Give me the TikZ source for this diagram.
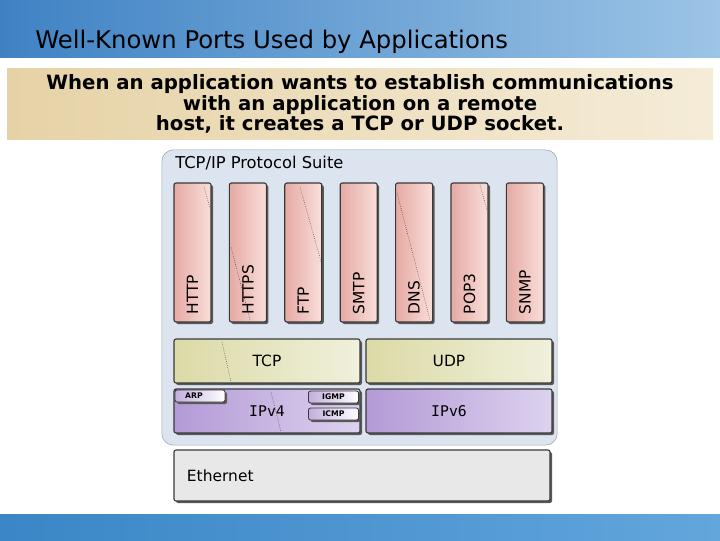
\documentclass[tikz,border=0pt]{standalone}
\usepackage{fontspec}
\setmainfont{DejaVu Sans}
\setmonofont{DejaVu Sans Mono}
\usetikzlibrary{shadows}
\definecolor{bannerL}{HTML}{3F82C4}
\definecolor{bannerR}{HTML}{9CC4E6}
\definecolor{bandL}{HTML}{3A86C6}
\definecolor{bandR}{HTML}{62A6DC}
\definecolor{tanL}{HTML}{E6D2A6}
\definecolor{tanR}{HTML}{F5ECD8}
\definecolor{suitebg}{HTML}{DCE4EF}
\definecolor{suiteedge}{HTML}{9AA6B4}
\definecolor{pinkL}{HTML}{E6AAA4}
\definecolor{pinkR}{HTML}{F9DEDA}
\definecolor{oliveL}{HTML}{DCDAA6}
\definecolor{oliveR}{HTML}{F0F0DC}
\definecolor{lilacL}{HTML}{B39AD6}
\definecolor{lilacR}{HTML}{DDD2EE}
\definecolor{ethgray}{HTML}{E8E8E8}
\definecolor{edgedark}{HTML}{3A3A3A}
\tikzset{
  block/.style={draw=edgedark,line width=0.8pt,rounded corners=1.5pt,inner sep=0pt,
    drop shadow={shadow xshift=0.05cm,shadow yshift=-0.05cm,fill=black!65,opacity=1}},
  portcol/.style={block,left color=pinkL,right color=pinkR,minimum width=0.925cm,minimum height=3.475cm},
  portlbl/.style={rotate=90,anchor=west,inner sep=0pt,font=\fontsize{11}{12}\selectfont},
  transport/.style={block,left color=oliveL,right color=oliveR,minimum width=4.65cm,minimum height=1.1cm,font=\fontsize{11}{12}\selectfont},
  network/.style={block,left color=lilacL,right color=lilacR,minimum width=4.65cm,minimum height=1.1cm,font=\ttfamily\fontsize{10.5}{12}\selectfont},
  tag/.style={block,line width=0.6pt,left color=lilacL!80,right color=white,minimum width=1.25cm,minimum height=0.3cm,font=\bfseries\fontsize{5.5}{6}\selectfont},
  trace/.style={densely dotted,black!75,thin},
}
\begin{document}
\begin{tikzpicture}[x=0.025cm,y=-0.025cm]
\useasboundingbox (0,0) rectangle (720,540);
% header and footer bands
\shade[left color=bannerL,right color=bannerR] (0,0) rectangle (720,57);
\shade[left color=bandL,right color=bandR] (0,514) rectangle (720,540);
\node[anchor=west,inner sep=0pt,font=\fontsize{17.3}{19}\selectfont] (title) at (35,42) {Well-Known Ports Used by Applications};
% intro text
\shade[left color=tanL,right color=tanR] (7,68) rectangle (713,139);
\node[align=center,inner sep=0pt,font=\bfseries\fontsize{14}{14.5}\selectfont] (intro) at (360,104)
  {When an application wants to establish communications\\with an application on a remote\\host, it creates a TCP or UDP socket.};
% suite panel
\node[draw=suiteedge,fill=suitebg,rounded corners=8pt,minimum width=9.875cm,minimum height=7.375cm] (suite) at (359.5,297.5) {};
\node[anchor=west,inner sep=0pt,font=\fontsize{11.6}{13}\selectfont] (suitettl) at (175,163) {TCP/IP Protocol Suite};
% application ports
\foreach \lbl [count=\i from 0] in {HTTP,HTTPS,FTP,SMTP,DNS,POP3,SNMP}{
  \node[portcol] (\lbl) at ({192.5+55.4*\i},252.5) {};
  \node[portlbl] (\lbl-t) at ([yshift=0.2cm]\lbl.south) {\lbl};
}
\draw[trace] (204,187) -- (210,208);
\draw[trace] (231,247) -- (250,320);
\draw[trace] (300,187) -- (322,265);
\draw[trace] (397,193) -- (430,320);
\draw[trace] (480,185) -- (487,210);
% transport and network layers
\node[transport] (tcp) at (267,361) {TCP};
\node[transport] (udp) at (459,361) {\hspace*{-0.5cm}UDP};
\draw[trace] (222,342) -- (231,382);
\node[network] (ipv4) at (267,411) {IPv4};
\node[network] (ipv6) at (459,411) {\hspace*{-0.5cm}IPv6};
\draw[trace] (271,392) -- (281,432);
\node[tag] (arp) at (200,396) {\hspace*{-0.3cm}ARP};
\node[tag] (igmp) at (333.5,397) {IGMP};
\node[tag] (icmp) at (333.5,414) {ICMP};
% link layer
\node[block,fill=ethgray,minimum width=9.4cm,minimum height=1.275cm,text width=8.75cm,inner xsep=0.325cm,align=left,font=\fontsize{11}{12}\selectfont] (eth) at (362,475.5) {Ethernet};
\end{tikzpicture}
\end{document}
